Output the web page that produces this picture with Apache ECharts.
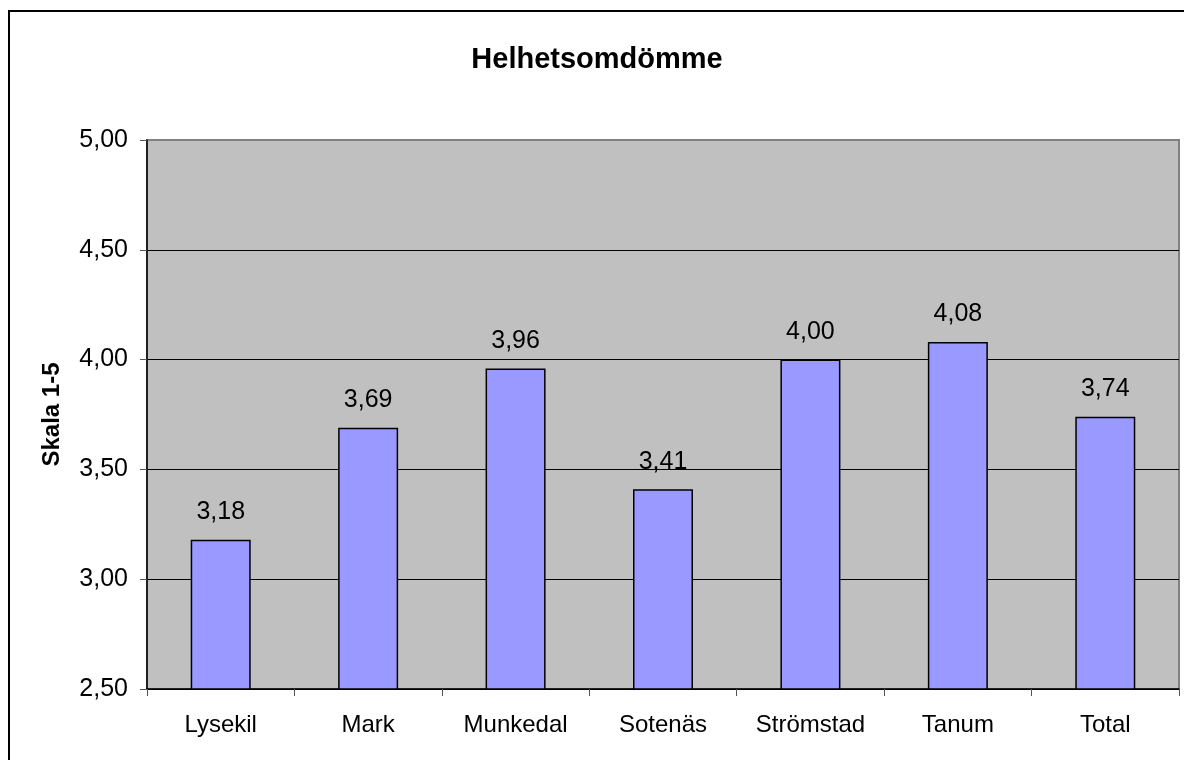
<!DOCTYPE html>
<html lang="sv">
<head>
    <meta charset="UTF-8">
    <title>Helhetsomdömme</title>
    <style>
        html, body { margin: 0; padding: 0; background: #fff; }
        div#main { width: 1184px; height: 760px; }
    </style>
</head>
<body>
    <div id="main"></div>
    <script src="https://cdn.jsdelivr.net/npm/echarts@6/dist/echarts.min.js"></script>
    <script>
        const kommuner = ["Lysekil", "Mark", "Munkedal", "Sotenäs", "Strömstad", "Tanum", "Total"];
        const betyg = [3.18, 3.69, 3.96, 3.41, 4.00, 4.08, 3.74];

        // swedish decimal comma
        const fmt = v => Number(v).toFixed(2).replace(".", ",");

        const myChart = echarts.init(document.getElementById("main"));

        const option = {
            animation: false,
            textStyle: { fontFamily: "Liberation Sans, Arial, sans-serif", color: "#000" },
            title: {
                text: "Helhetsomdömme",
                left: 592,
                textAlign: "center",
                top: 40,
                textStyle: { fontSize: 29, fontWeight: "bold", color: "#000" }
            },
            graphic: [
                {
                    type: "rect",
                    shape: { x: 9, y: 11, width: 1220, height: 800 },
                    style: { fill: "none", stroke: "#000", lineWidth: 2 },
                    silent: true
                }
            ],
            grid: {
                left: 147,
                right: 5,
                top: 140,
                bottom: 71,
                show: true,
                backgroundColor: "#c0c0c0",
                borderColor: "#808080",
                borderWidth: 2
            },
            xAxis: {
                type: "category",
                data: kommuner,
                axisLine: { lineStyle: { color: "#000", width: 1.5 } },
                axisTick: { show: true, interval: 0, length: 7, lineStyle: { color: "#555" } },
                axisLabel: { interval: 0, fontSize: 24, color: "#000", margin: 24 }
            },
            yAxis: {
                type: "value",
                min: 2.5,
                max: 5,
                interval: 0.5,
                name: "Skala 1-5",
                nameLocation: "middle",
                nameGap: 83,
                nameTextStyle: { fontSize: 24, fontWeight: "bold", color: "#000" },
                axisLine: { show: true, lineStyle: { color: "#000", width: 1.5 } },
                axisTick: { show: true, length: 7, lineStyle: { color: "#555" } },
                axisLabel: { fontSize: 25, color: "#000", margin: 19, formatter: fmt },
                splitLine: {
                    lineStyle: {
                        color: ["#000", "#000", "#000", "#000", "#000", "#808080"],
                        width: 1
                    }
                }
            },
            series: [
                {
                    type: "bar",
                    data: betyg,
                    barWidth: 60,
                    itemStyle: { color: "#9999ff", borderColor: "#000", borderWidth: 1.5 },
                    label: {
                        show: true,
                        position: "top",
                        distance: 15,
                        fontSize: 25,
                        color: "#000",
                        formatter: p => fmt(p.value)
                    }
                }
            ]
        };

        myChart.setOption(option);
    </script>
</body>
</html>
